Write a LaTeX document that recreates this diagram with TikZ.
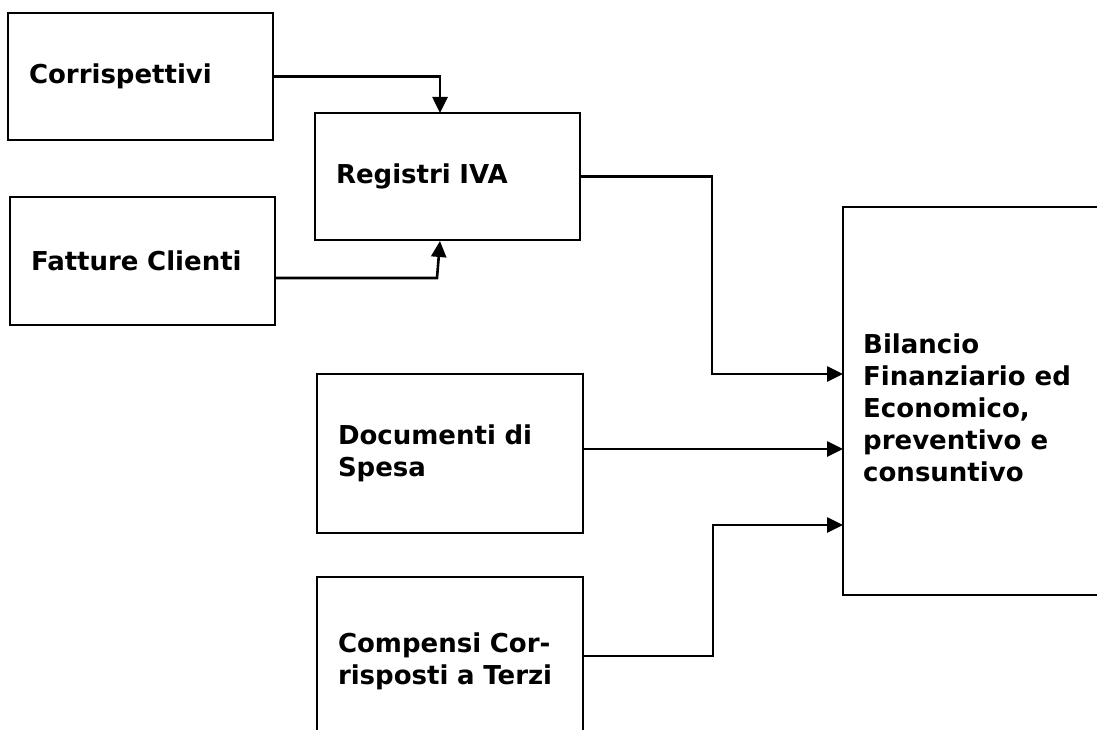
\documentclass[tikz,border=0pt]{standalone}
\usepackage{fontspec}
\setmainfont{DejaVu Sans}
\usetikzlibrary{arrows.meta,calc}
\begin{document}
\begin{tikzpicture}[x=1pt,y=-1pt,
  box/.style={draw=black, line width=2.2pt, fill=white, inner xsep=21pt, inner ysep=0pt,
    align=left, font=\fontsize{26}{32}\selectfont\bfseries},
  txt/.style={inner sep=0pt, align=left, font=\fontsize{26}{32}\selectfont\bfseries},
  conn/.style={line width=2.6pt, line cap=rect},
  tip/.style={-{Triangle[length=16pt,width=15pt]}}
]
\clip (0,0) rectangle (1097,730);
\fill[white] (0,0) rectangle (1097,730);

\node[box, text width=223pt, minimum height=127pt] (corr) at (140.5,76.5) {Corrispettivi};
\node[box, text width=223pt, minimum height=127pt] (reg) at (447.5,176.5) {Registri IVA};
\node[box, text width=223pt, minimum height=128pt] (fatt) at (142.5,261) {Fatture Clienti};
\node[box, text width=224pt, minimum height=159pt] (doc) at (450,453.5) {Documenti di\\Spesa};
\node[box, text width=224pt, minimum height=168pt] (comp) at (450,661) {Compensi Cor-\\risposti a Terzi};
\node[box, minimum width=287pt, minimum height=388pt] (bil) at (986.5,401) {};
\node[txt, anchor=north west] (biltxt) at (863,334) {Bilancio\\Finanziario ed\\Economico,\\preventivo e\\consuntivo};

% connector points
\coordinate (regin1) at (440,113);
\coordinate (fattbend) at (437,278);
\coordinate (regin2) at (440,241);
\coordinate (b1) at (843,374);
\coordinate (b2) at (843,449);
\coordinate (b3) at (843,525);
\coordinate (rbend) at (712,176.5);
\coordinate (cbend) at (713,656);

\draw[conn, tip] (corr.east) -| (regin1);
\draw[conn, tip] (fatt.east |- fattbend) -- (fattbend) -- (regin2);
\draw[conn, tip] (reg.east) -- (rbend) |- (b1);
\draw[conn, tip] (doc.east |- b2) -- (b2);
\draw[conn, tip] (comp.east |- cbend) -- (cbend) |- (b3);
\end{tikzpicture}
\end{document}
